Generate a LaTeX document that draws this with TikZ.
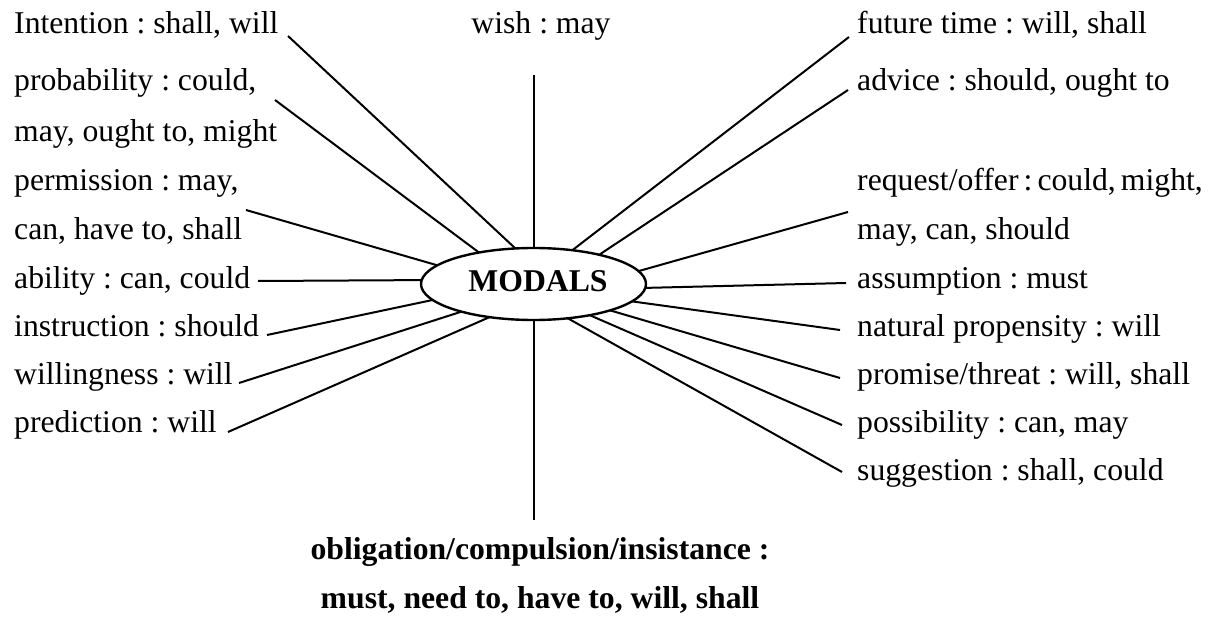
\documentclass[tikz,border=0pt]{standalone}
\usepackage{fontspec}
\setmainfont{Liberation Serif}
\usetikzlibrary{shapes.geometric}
\frenchspacing
\begin{document}
\begin{tikzpicture}[x=1pt,y=-1pt,
  lbl/.style={anchor=base west,inner sep=0pt,font=\fontsize{31.7}{36}\selectfont},
  ctr/.style={anchor=base,inner sep=0pt,font=\fontsize{31.7}{36}\selectfont},
  bctr/.style={anchor=base,inner sep=0pt,font=\fontsize{31.7}{36}\selectfont\bfseries},
  conn/.style={line width=2pt,line cap=butt},
  hub/.style={ellipse,draw,line width=2.4pt,minimum width=225pt,minimum height=72pt,inner sep=0pt,outer sep=0pt}
]
\useasboundingbox (0,0) rectangle (1209,628);

% hub
\node[hub] (modals) at (533.5,284) {};
\node[bctr] (modalstext) at (538,291) {MODALS};

% left labels
\node[lbl] (intention) at (14,34) {Intention : shall, will};
\node[lbl] (probA) at (14,91) {probability : could,};
\node[lbl] (probB) at (14,142) {may, ought to, might};
\node[lbl] (permA) at (14,191) {permission : may,};
\node[lbl] (permB) at (14,240) {can, have to, shall};
\node[lbl] (ability) at (14,288) {ability : can, could};
\node[lbl] (instruction) at (14,336) {instruction : should};
\node[lbl] (willingness) at (14,384) {willingness : will};
\node[lbl] (prediction) at (14,432) {prediction : will};

% right labels
\node[lbl] (future) at (857,34) {future time : will, shall};
\node[lbl] (advice) at (857,91) {advice : should, ought to};
\node[lbl] (reqA) at (857,191) {\spaceskip=0.16em request/offer : could, might,};
\node[lbl] (reqB) at (857,240) {may, can, should};
\node[lbl] (assumption) at (857,288) {assumption : must};
\node[lbl] (natural) at (857,336) {natural propensity : will};
\node[lbl] (promise) at (857,384) {promise/threat : will, shall};
\node[lbl] (possibility) at (857,432) {possibility : can, may};
\node[lbl] (suggestion) at (857,480) {suggestion : shall, could};

% top and bottom
\node[ctr] (wish) at (541,34) {wish : may};
\node[bctr] (oblA) at (540,559) {obligation/compulsion/insistance :};
\node[bctr] (oblB) at (540,608) {must, need to, have to, will, shall};

% free ends of connectors
\coordinate (cIntention) at (288,36);
\coordinate (cProb) at (275,100);
\coordinate (cPerm) at (246,210);
\coordinate (cWish) at (533.5,75);
\coordinate (cAbility) at (258,281);
\coordinate (cInstruction) at (267,335);
\coordinate (cWillingness) at (239,383);
\coordinate (cPrediction) at (228,432);
\coordinate (cObl) at (533.5,520);
\coordinate (cSuggestion) at (842,472);
\coordinate (cPossibility) at (842,425);
\coordinate (cPromise) at (840,378);
\coordinate (cNatural) at (840,330);
\coordinate (cAssumption) at (846,283);
\coordinate (cRequest) at (848,212);
\coordinate (cAdvice) at (848,90);
\coordinate (cFuture) at (849,37);

% connectors
\draw[conn] (cIntention) -- (modals.117.5);
\draw[conn] (cProb) -- (modals.150.6);
\draw[conn] (cPerm) -- (modals.169.1);
\draw[conn] (cWish) -- (modals.90);
\draw[conn] (cAbility) -- (modals.178.5);
\draw[conn] (cInstruction) -- (modals.189.6);
\draw[conn] (cWillingness) -- (modals.201.2);
\draw[conn] (cPrediction) -- (modals.217.3);
\draw[conn] (cObl) -- (modals.270);
\draw[conn] (cSuggestion) -- (modals.315.2);
\draw[conn] (cPossibility) -- (modals.331.2);
\draw[conn] (cPromise) -- (modals.341.8);
\draw[conn] (cNatural) -- (modals.350.4);
\draw[conn] (cAssumption) -- (modals.358.5);
\draw[conn] (cRequest) -- (modals.7.8);
\draw[conn] (cAdvice) -- (modals.24.6);
\draw[conn] (cFuture) -- (modals.41.3);
\end{tikzpicture}
\end{document}
